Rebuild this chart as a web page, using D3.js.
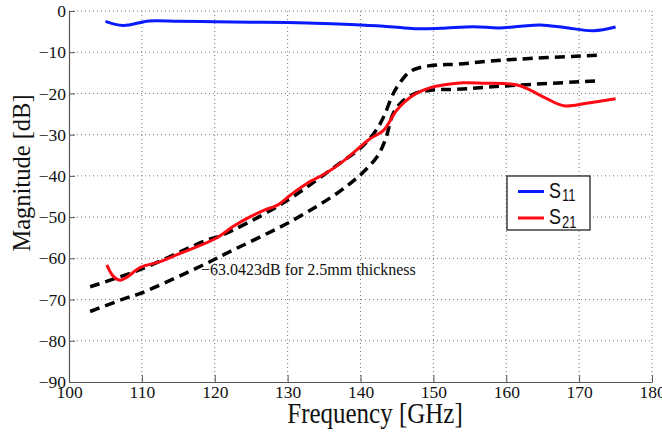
<!DOCTYPE html>
<html>
<head>
<meta charset="utf-8">
<script src="https://cdn.jsdelivr.net/npm/d3@7"></script>
<style>
body { margin: 0; background: #fff; }
</style>
</head>
<body>
<div id="chart"></div>
<script>
// S11 (blue)
var freqS11 = [105, 107.4, 111, 115, 120, 125, 130, 136, 140, 144, 147.5, 151, 155.5, 159, 162, 164.7, 168, 172, 175];
var magS11 = [-2.5, -3.5, -2.4, -2.5, -2.6, -2.7, -2.8, -3.1, -3.4, -3.8, -4.3, -4.2, -3.8, -4.1, -3.7, -3.4, -4.0, -4.8, -3.9];

// S21 (red)
var freqS21 = [105.2, 106, 107, 108, 109.8, 112.5, 115, 117, 120.3, 122.5, 124.9, 126.8, 128.6, 130.5, 132.7, 135.4, 137.5, 139.6, 141.3, 143.2, 145, 147.3, 149.6, 151.5, 154.1, 157, 160.6, 162, 163.3, 165.5, 167.9, 171, 175];
var magS21 = [-61.6, -64.2, -65.3, -64.5, -62.2, -60.8, -59, -57.6, -55, -52.3, -49.9, -48.3, -47.1, -44.5, -41.8, -39.2, -36.6, -33.5, -31, -28.9, -24, -20.4, -18.6, -17.9, -17.4, -17.5, -17.7, -18.2, -19.2, -21.2, -23, -22.4, -21.3];

// dashed fits
var freqFit1 = [102.9, 109.8, 118.9, 120.7, 129, 136.8, 140.2, 142.0, 143.2, 144.5, 145.7, 146.8, 148.2, 150.5, 153.2, 159.6, 173];
var magFit1 = [-66.9, -62.7, -55.6, -54.6, -47, -37.4, -32.9, -29.3, -25.6, -20, -16.7, -14.7, -13.7, -13.1, -12.9, -11.9, -10.7];
var freqFit2 = [102.9, 107.9, 109.8, 118.9, 121.7, 130.8, 136.8, 139.3, 140.2, 142.3, 143.4, 144.5, 145.7, 147.5, 149.6, 153.2, 159.6, 173];
var magFit2 = [-72.9, -69.6, -68.5, -61.2, -58.7, -50.7, -44.2, -40.8, -39.4, -35.3, -31.3, -24.8, -22, -20, -19.2, -19, -18.2, -16.9];

var xTicks = [100, 110, 120, 130, 140, 150, 160, 170, 180];
var yTicks = [0, -10, -20, -30, -40, -50, -60, -70, -80, -90];
var legendNames = ["11", "21"];
var legendColors = ["#0a1aff", "#ff0a14"];
var noteText = "\u221263.0423dB for 2.5mm thickness";

var w = 662;
var h = 435;
var pLeft = 69, pRight = 652, pTop = 11, pBottom = 382;
var serif = "Liberation Serif, Times New Roman, serif";

var svg = d3.select("#chart")
            .append("svg")
            .attr("width", w)
            .attr("height", h);

var xScale = d3.scaleLinear()
              .domain([100, 180])
              .range([pLeft, pRight]);
var yScale = d3.scaleLinear()
              .domain([-90, 0])
              .range([pBottom, pTop]);

// grid
svg.selectAll(".vgrid")
    .data(xTicks.slice(1))
    .enter()
    .append("line")
    .attr("x1", d => xScale(d))
    .attr("x2", d => xScale(d))
    .attr("y1", pTop)
    .attr("y2", pBottom)
    .attr("stroke", "#777")
    .attr("stroke-width", 1)
    .attr("stroke-dasharray", "1,3");
svg.selectAll(".hgrid")
    .data(yTicks.slice(0, -1))
    .enter()
    .append("line")
    .attr("x1", pLeft)
    .attr("x2", pRight)
    .attr("y1", d => yScale(d))
    .attr("y2", d => yScale(d))
    .attr("stroke", "#777")
    .attr("stroke-width", 1)
    .attr("stroke-dasharray", "1,3");

// axes
var xAxis = d3.axisBottom(xScale).tickValues(xTicks).tickSizeInner(-7).tickSizeOuter(0).tickPadding(4);
var yAxis = d3.axisLeft(yScale).tickValues(yTicks).tickSizeInner(-6).tickSizeOuter(0).tickPadding(3);

var gx = svg.append("g")
   .attr("transform", "translate(0," + pBottom + ")")
   .call(xAxis);
var gy = svg.append("g")
   .attr("transform", "translate(" + pLeft + ",0)")
   .call(yAxis);

[gx, gy].forEach(function(g) {
  g.select(".domain").attr("stroke", "#555").attr("stroke-width", 1.2);
  g.selectAll(".tick line").attr("stroke", "#555");
  g.selectAll(".tick text")
    .attr("font-family", serif)
    .attr("font-size", 17.5)
    .attr("fill", "#111");
});

// axis titles
svg.append("text")
   .attr("transform", "translate(375,423) scale(1,1.17)")
   .attr("text-anchor", "middle")
   .attr("font-family", serif)
   .attr("font-size", 25)
   .attr("fill", "#111")
   .text("Frequency [GHz]");
svg.append("text")
   .attr("transform", "translate(30,173) rotate(-90)")
   .attr("text-anchor", "middle")
   .attr("font-family", serif)
   .attr("font-size", 24.5)
   .attr("fill", "#111")
   .text("Magnitude [dB]");

function curve(fs, ms) {
  return d3.line()
           .x(i => xScale(fs[i]))
           .y(i => yScale(ms[i]))
           .curve(d3.curveCatmullRom.alpha(0.5))(d3.range(fs.length));
}

// dashed fits
svg.append("path")
   .attr("d", curve(freqFit1, magFit1))
   .attr("fill", "none")
   .attr("stroke", "#000")
   .attr("stroke-width", 3.5)
   .attr("stroke-dasharray", "10,6");
svg.append("path")
   .attr("d", curve(freqFit2, magFit2))
   .attr("fill", "none")
   .attr("stroke", "#000")
   .attr("stroke-width", 3.5)
   .attr("stroke-dasharray", "10,6");

// measured
svg.append("path")
   .attr("d", curve(freqS11, magS11))
   .attr("fill", "none")
   .attr("stroke", legendColors[0])
   .attr("stroke-width", 3);
svg.append("path")
   .attr("d", curve(freqS21, magS21))
   .attr("fill", "none")
   .attr("stroke", legendColors[1])
   .attr("stroke-width", 3);

// annotation
svg.append("text")
   .attr("x", 201)
   .attr("y", 275)
   .attr("font-family", serif)
   .attr("font-size", 16)
   .attr("fill", "#111")
   .text(noteText);

// legend
var lg = svg.append("g").attr("transform", "translate(507,176)");
lg.append("rect")
  .attr("width", 83)
  .attr("height", 54)
  .attr("fill", "#fff")
  .attr("stroke", "#222")
  .attr("stroke-width", 1.3);
legendNames.forEach(function(n, i) {
  var yy = 15.5 + i * 26.5;
  lg.append("line")
    .attr("x1", 11).attr("x2", 37)
    .attr("y1", yy).attr("y2", yy)
    .attr("stroke", legendColors[i])
    .attr("stroke-width", 3);
  var t = lg.append("text")
    .attr("transform", "translate(42," + (yy + 6) + ") scale(1,1.2)")
    .attr("font-family", "Liberation Sans, Arial, sans-serif")
    .attr("font-size", 18)
    .attr("fill", "#111");
  t.append("tspan").text("S");
  t.append("tspan").attr("font-size", 13).attr("dx", 1).attr("dy", 3).text(n);
});
</script>
</body>
</html>
